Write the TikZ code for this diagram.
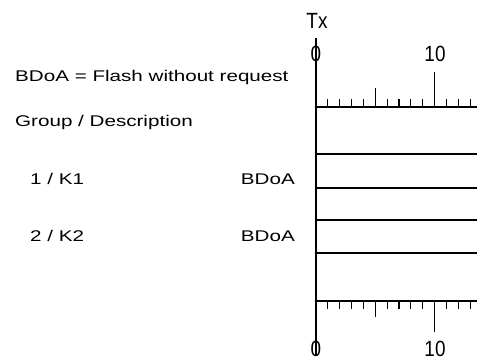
\documentclass[tikz,border=0pt]{standalone}
\usepackage{fontspec}
\setmainfont{Liberation Sans}
\newfontfamily\uifont[FakeStretch=1.33]{Liberation Sans}
\newfontfamily\axfont[FakeStretch=0.86]{Liberation Sans}
\usetikzlibrary{positioning}

\begin{document}
\begin{tikzpicture}[x=1pt,y=-1pt,
        t/.style={font=\uifont\fontsize{15.5}{18}\selectfont,inner sep=0pt},
        num/.style={font=\axfont\fontsize{22}{24}\selectfont,inner sep=0pt,anchor=base},
        ax/.style={draw=black,line width=1.1pt}]
        \useasboundingbox (0,0) rectangle (477,361);
        % axis corners
        \coordinate (top) at (316,38);
        \coordinate (bot) at (316,356);
        \coordinate (ta) at (316,107);
        \coordinate (te) at (477,107);
        \coordinate (ba) at (316,301);
        \coordinate (be) at (477,301);
        % texts
        \node[t,anchor=base west] (legend) at (15,82) {BDoA = Flash without request};
        \node[t,anchor=base west] (head) at (15,126) {Group / Description};
        \node[t,anchor=base west] (g1) at (30,184) {1 / K1};
        \node[t,anchor=base east] (b1) at (295,184) {BDoA};
        \node[t,anchor=base west] (g2) at (30,241) {2 / K2};
        \node[t,anchor=base east] (b2) at (295,241) {BDoA};
        \node[num] (tx) at (317,29) {Tx};
        \node[num] (z1) at (316,62) {0};
        \node[num] (d1) at (435,62) {10};
        \node[num] (z2) at (316,356) {0};
        \node[num] (d2) at (435,356) {10};
        % time axis
        \draw[ax] (top) -- (bot);
        \draw[ax] (ta) -- (te);
        \draw[ax] (ba) -- (be);
        \foreach \k in {1,...,13} {
          \pgfmathsetmacro{\xx}{316+11.86*\k}
          \ifnum\k=10
            \draw[ax] (\xx,107) -- (\xx,72);
            \draw[ax] (\xx,301) -- (\xx,332);
          \else\ifnum\k=5
            \draw[ax] (\xx,107) -- (\xx,88);
            \draw[ax] (\xx,301) -- (\xx,317);
          \else
            \draw[ax] (\xx,107) -- (\xx,99);
            \draw[ax] (\xx,301) -- (\xx,309);
          \fi\fi
        }
        % group rows
        \foreach \y in {154,188,220,253}
          \draw[ax] (316,\y) -- (477,\y);
      \end{tikzpicture}
\end{document}
